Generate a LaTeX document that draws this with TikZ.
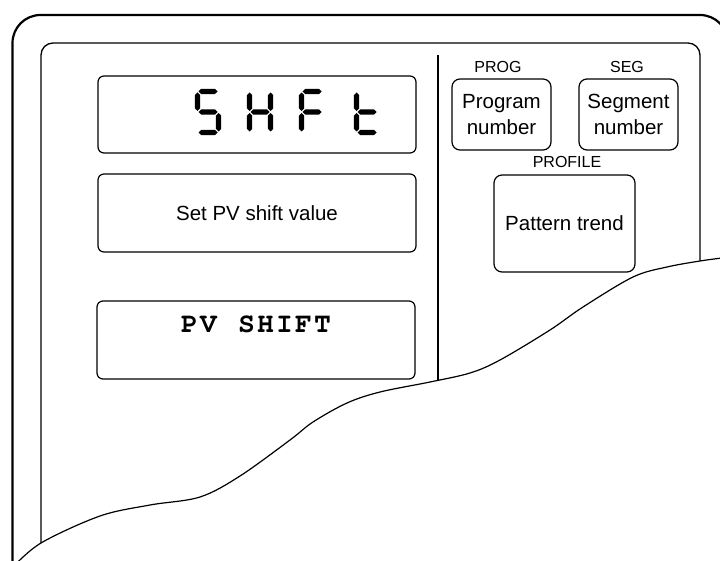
\documentclass[tikz,border=0pt]{standalone}
\usepackage{fontspec}
\setmainfont{Liberation Sans}
\newfontfamily\pvfont{texgyrecursor-bold.otf}
\newcommand\hsg[3]{\fill ({#1},{#3}) -- ({#1+2.6},{#3-2.6}) -- ({#2-2.6},{#3-2.6}) -- ({#2},{#3}) -- ({#2-2.6},{#3+2.6}) -- ({#1+2.6},{#3+2.6}) -- cycle;}
\newcommand\vsg[3]{\fill ({#3},{#1}) -- ({#3+2.6},{#1+2.6}) -- ({#3+2.6},{#2-2.6}) -- ({#3},{#2}) -- ({#3-2.6},{#2-2.6}) -- ({#3-2.6},{#1+2.6}) -- cycle;}
\newcommand\sgA[1]{\hsg{#1+3.5}{#1+22.5}{91.5}}
\newcommand\sgG[1]{\hsg{#1+3.5}{#1+22.5}{112}}
\newcommand\sgD[1]{\hsg{#1+3.5}{#1+22.5}{132.5}}
\newcommand\sgF[1]{\vsg{92.5}{111}{#1+2.5}}
\newcommand\sgB[1]{\vsg{92.5}{111}{#1+23.5}}
\newcommand\sgE[1]{\vsg{113}{131.5}{#1+2.5}}
\newcommand\sgC[1]{\vsg{113}{131.5}{#1+23.5}}
\newcommand\pvch[1]{\makebox[19pt]{#1}}
\begin{document}
\begin{tikzpicture}[x=1pt,y=-1pt,
  box/.style={draw, line width=1.2pt, rounded corners=6pt, inner sep=0pt},
  rbox/.style={draw, line width=1.2pt, rounded corners=8pt, inner sep=0pt, align=center, font=\fontsize{20.5}{26}\selectfont},
  lbl/.style={font=\fontsize{16}{18}\selectfont, anchor=base, inner sep=0pt},
  wave/.style={line width=1.2pt}
]
\useasboundingbox (0,0) rectangle (720,561);
\clip (0,0) rectangle (720,561);
% frames
\draw[line width=2.2pt, rounded corners=28pt] (12.5,620) -- (12.5,15) -- (728,15) -- (728,620);
\draw[line width=1.3pt, rounded corners=12pt] (41,620) -- (41,43) -- (700,43) -- (700,620);
\draw[line width=2pt] (437.5,55) -- (437.5,450);
% cut-away
\fill[white] plot[smooth,tension=0.55] coordinates {(12,568) (41,543) (100,516) (150,505) (200,497) (240,476) (290,440) (313,422) (347,403) (380,392) (430,382) (470,373) (500,360) (550,330) (583,307) (633,277) (667,267) (700,261) (722,258)} -- (740,258) -- (740,620) -- (12.5,620) -- cycle;
\draw[wave] plot[smooth,tension=0.55] coordinates {(12,568) (41,543) (100,516) (150,505) (200,497) (240,476) (290,440) (313,422) (347,403) (380,392) (430,382) (470,373) (500,360) (550,330) (583,307) (633,277) (667,267) (700,261) (722,258)};
% left boxes
\node[box, minimum width=318pt, minimum height=77pt] (disp) at (257,114.5) {};
\node[box, minimum width=318pt, minimum height=78pt, font=\fontsize{20.5}{24}\selectfont] (msg) at (257,213) {Set PV shift value};
\node[box, minimum width=318pt, minimum height=78pt] (guide) at (256,340) {};
\node[inner sep=0pt, anchor=base, font=\pvfont\fontsize{28}{28}\selectfont] (pvtext) at (256,332) {\pvch{P}\pvch{V}\pvch{ }\pvch{S}\pvch{H}\pvch{I}\pvch{F}\pvch{T}};
% seven segment SHFt
\sgA{195}\sgF{195}\sgG{195}\sgC{195}\sgD{195}
\sgF{247}\sgB{247}\sgG{247}\sgE{247}\sgC{247}
\sgA{299}\sgF{299}\sgG{299}\sgE{299}
\sgF{354}\sgE{354}\sgG{354}\sgD{354}
% right boxes
\node[rbox, minimum width=99pt, minimum height=71pt] (prog) at (501.5,114.5) {Program\\number};
\node[rbox, minimum width=99pt, minimum height=71pt] (seg) at (628.5,114.5) {Segment\\number};
\node[rbox, minimum width=141pt, minimum height=97pt] (prof) at (564.5,223.5) {Pattern trend};
\node[lbl] (progl) at (498,73) {PROG};
\node[lbl] (segl) at (627,73) {SEG};
\node[lbl] (profl) at (567,168) {PROFILE};
\end{tikzpicture}
\end{document}
